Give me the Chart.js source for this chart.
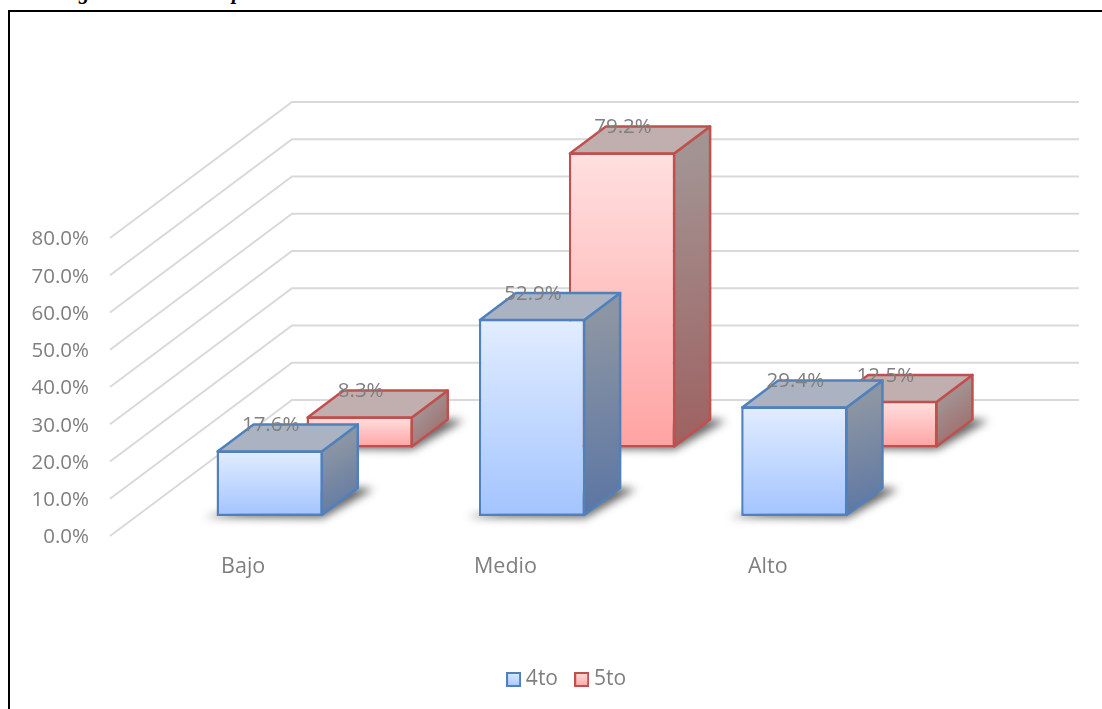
<!DOCTYPE html>
<html>
<head>
<meta charset="utf-8">
<style>
  html, body { margin: 0; padding: 0; background: #fff; overflow: hidden; }
  body { width: 1102px; height: 709px; position: relative; }
  #frame { position: absolute; left: 8px; top: 10px; width: 1110px; height: 720px; border: 2px solid #000; }
  .cut { position: absolute; font: italic bold 21px "Liberation Serif"; line-height: 24px; color: #000; }
  canvas { position: absolute; left: 0; top: 0; }
</style>
<script src="https://cdn.jsdelivr.net/npm/chart.js@4/dist/chart.umd.min.js"></script>
</head>
<body>
<!-- caption above the frame is cut off by the page edge, only the descenders show -->
<div class="cut" style="left:79px;top:-20px">g</div>
<div class="cut" style="left:232px;top:-20px">p</div>
<div id="frame"></div>
<canvas id="chart" width="1102" height="709"></canvas>
<script>
const categories = ['Bajo', 'Medio', 'Alto'];
const values4to = [17.6, 52.9, 29.4];
const values5to = [8.3, 79.2, 12.5];
const seriesNames = ['4to', '5to'];

const GREY = '#7F7F7F';
const FONT = { family: '"Open Sans"', size: 20.5 };

// how far each row sits back on the floor, and the box depth
const WALL = { dx: 182, dy: -136 };
const BOX = { dx: 36, dy: -27 };

const looks = [
  { shift: { x: 28.5, y: -20 }, line: '#4F81BD', light: '#E2EDFF', dark: '#A3C4FF',
    top: '#ABB3C2', sideA: '#8C95A3', sideB: '#5A75A3' },
  { shift: { x: 118.5, y: -88.5 }, line: '#C0504D', light: '#FFE0E0', dark: '#FFA3A3',
    top: '#C1AEAE', sideA: '#A39494', sideB: '#9E6060' }
];

function frontFill(look) {
  return ctx => {
    const chart = ctx.chart;
    const y = chart.scales.y;
    if (!y || !ctx.parsed) return look.dark;
    const y0 = y.getPixelForValue(ctx.parsed.y);
    const y1 = y.getPixelForValue(0);
    if (!isFinite(y0) || !isFinite(y1)) return look.dark;
    const g = chart.ctx.createLinearGradient(0, y0, 0, y1);
    g.addColorStop(0, look.light);
    g.addColorStop(1, look.dark);
    return g;
  };
}

function swatch(look) {
  const c = document.createElement('canvas');
  c.width = 15;
  c.height = 15;
  const x = c.getContext('2d');
  const g = x.createLinearGradient(0, 0, 0, 15);
  g.addColorStop(0, look.light);
  g.addColorStop(1, look.dark);
  x.fillStyle = g;
  x.fillRect(1, 1, 13, 13);
  x.strokeStyle = look.line;
  x.lineWidth = 2;
  x.strokeRect(1, 1, 13, 13);
  return c;
}
const swatches = looks.map(swatch);

function poly(ctx, pts) {
  ctx.beginPath();
  pts.forEach((p, i) => i ? ctx.lineTo(p[0], p[1]) : ctx.moveTo(p[0], p[1]));
  ctx.closePath();
}

// back wall and left wall lines, one per y tick
const walls = {
  id: 'walls',
  beforeDatasetsDraw(chart) {
    const { ctx, scales: { x, y } } = chart;
    ctx.save();
    ctx.strokeStyle = '#D9D9D9';
    ctx.lineWidth = 2;
    y.ticks.forEach(t => {
      const py = y.getPixelForValue(t.value);
      ctx.beginPath();
      ctx.moveTo(x.left, py);
      ctx.lineTo(x.left + WALL.dx, py + WALL.dy);
      ctx.lineTo(x.right + WALL.dx, py + WALL.dy);
      ctx.stroke();
    });
    ctx.restore();
  }
};

// shadow, side and top of each box; the front face is the library's own bar
const boxes = {
  id: 'boxes',
  beforeDatasetDraw(chart, args) {
    const { ctx } = chart;
    const look = looks[args.index];
    ctx.save();
    ctx.translate(look.shift.x, look.shift.y);
    args.meta.data.forEach(bar => {
      const l = bar.x - bar.width / 2;
      const r = bar.x + bar.width / 2;
      const t = bar.y;
      const b = bar.base;

      ctx.save();
      ctx.filter = 'blur(4px)';
      ctx.fillStyle = 'rgba(40,40,40,0.7)';
      poly(ctx, [[l - 12, b + 1], [r, b + 2], [r + BOX.dx + 15, b + BOX.dy], [r + BOX.dx - 10, b + BOX.dy - 2]]);
      ctx.fill();
      ctx.restore();

      const g = ctx.createLinearGradient(r, t, r + BOX.dx, b);
      g.addColorStop(0, look.sideA);
      g.addColorStop(1, look.sideB);
      ctx.fillStyle = g;
      ctx.strokeStyle = look.line;
      ctx.lineWidth = 2.5;
      ctx.lineJoin = 'round';
      poly(ctx, [[r - 1, t + 1], [r - 1 + BOX.dx, t + 1 + BOX.dy], [r - 1 + BOX.dx, b - 1 + BOX.dy], [r - 1, b - 1]]);
      ctx.fill();
      ctx.stroke();

      ctx.fillStyle = look.top;
      poly(ctx, [[l + 1, t + 1], [l + 1 + BOX.dx, t + 1 + BOX.dy], [r - 1 + BOX.dx, t + 1 + BOX.dy], [r - 1, t + 1]]);
      ctx.fill();
      ctx.stroke();
    });
  },
  afterDatasetDraw(chart) {
    chart.ctx.restore();
  },
  afterDatasetsDraw(chart) {
    // value labels go over every box
    const { ctx } = chart;
    ctx.save();
    ctx.font = FONT.size + 'px ' + FONT.family;
    ctx.fillStyle = GREY;
    ctx.textAlign = 'center';
    ctx.textBaseline = 'middle';
    chart.data.datasets.forEach((ds, i) => {
      chart.getDatasetMeta(i).data.forEach((bar, j) => {
        ctx.fillText(ds.data[j].toFixed(1) + '%', bar.x + looks[i].shift.x + 1, bar.y + looks[i].shift.y - 25);
      });
    });
    ctx.restore();
  },
  afterLayout(chart) {
    // the legend is centred on the whole picture's floor, not on the front plane
    chart.legend.left = 0;
    chart.legend.right = 1138;
  }
};

new Chart(document.getElementById('chart'), {
  type: 'bar',
  data: {
    labels: categories,
    datasets: [
      { label: seriesNames[0], data: values4to, backgroundColor: frontFill(looks[0]), borderColor: looks[0].line },
      { label: seriesNames[1], data: values5to, backgroundColor: frontFill(looks[1]), borderColor: looks[1].line }
    ].map(d => ({ ...d, borderWidth: 2.5, borderSkipped: false, barPercentage: 0.405, categoryPercentage: 1, grouped: false, clip: false }))
  },
  plugins: [walls, boxes],
  options: {
    responsive: false,
    animation: false,
    layout: { padding: { left: 0, right: 205, top: 238, bottom: 9 } },
    plugins: {
      tooltip: { enabled: false },
      title: { display: false },
      legend: {
        position: 'bottom',
        labels: {
          color: GREY,
          font: { ...FONT, size: 21 },
          padding: 22,
          usePointStyle: true,
          pointStyleWidth: 3.5, // swatch image keeps its size, this only closes the gap to the text
          generateLabels(chart) {
            const list = Chart.defaults.plugins.legend.labels.generateLabels(chart);
            list.forEach(l => { l.pointStyle = swatches[l.datasetIndex]; });
            return list;
          }
        }
      }
    },
    scales: {
      x: {
        grid: { display: false, drawTicks: false },
        border: { display: false },
        ticks: { color: GREY, font: { ...FONT, size: 21.5 }, padding: 18, labelOffset: 2, maxRotation: 0 },
        afterFit(s) { s.height = 111; }
      },
      y: {
        min: 0,
        max: 80,
        grid: { display: false, drawTicks: false },
        border: { display: false },
        ticks: {
          stepSize: 10,
          color: GREY,
          font: FONT,
          padding: 21,
          labelOffset: 1.5,
          callback: v => v.toFixed(1) + '%'
        },
        afterFit(s) { s.width = 110; }
      }
    }
  }
});
</script>
</body>
</html>
